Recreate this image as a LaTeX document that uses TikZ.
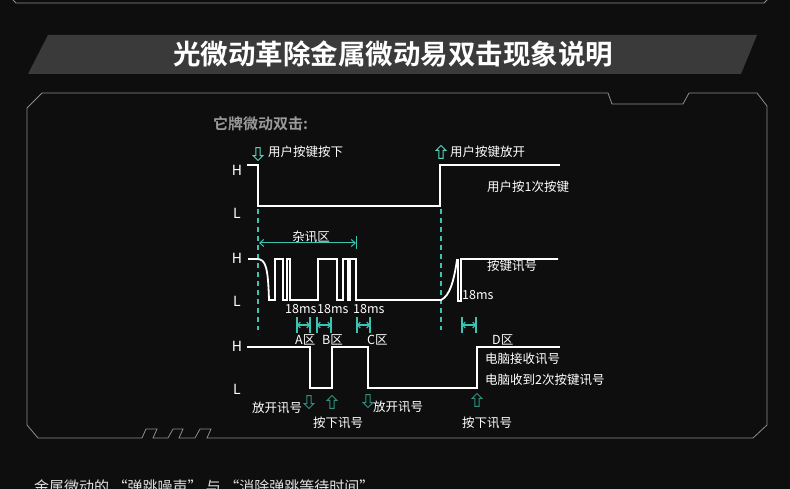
\documentclass[tikz,border=0pt]{standalone}
\usepackage{fontspec}
\setmainfont{Noto Sans CJK SC}[BoldFont={Noto Sans CJK SC Bold}]
\usetikzlibrary{arrows.meta,positioning,shapes.arrows}
\definecolor{bg}{HTML}{0E0E0E}
\definecolor{frameline}{HTML}{8C8C8C}
\definecolor{banner}{HTML}{3A3A3A}
\definecolor{tealline}{HTML}{3CC4B2}
\definecolor{tealarrow}{HTML}{57D3BE}
\definecolor{tealdark}{HTML}{2E8F7E}
\definecolor{subgrey}{HTML}{9A9A9A}
\tikzset{
  wave/.style={white,line width=1.8pt,line join=miter},
  lbl/.style={text=white,font=\fontsize{12.5}{14}\selectfont,inner sep=0pt,anchor=west},
  lvl/.style={text=white,font=\fontsize{14}{16}\selectfont,inner sep=0pt},
  guide/.style={tealline,line width=1.1pt,dash pattern=on 5pt off 4pt},
  hollow/.style={single arrow,draw=#1,line width=0.9pt,minimum height=13pt,minimum width=10pt,
    single arrow head extend=2.5pt,inner sep=1.5pt},
  widthmark/.style={tealline,line width=1.5pt}
}
\begin{document}
\begin{tikzpicture}[x=1pt,y=-1pt]
\fill[bg] (0,0) rectangle (790,489);
\useasboundingbox (0,0) rectangle (790,489);
\clip (0,0) rectangle (790,489);

% frame and title banner
\draw[frameline,line width=0.8pt] (13,0) -- (16,3) -- (764,3) -- (767,0);
\fill[banner] (48,35) -- (757,35) -- (741,74) -- (28,74) -- cycle;
\node[text=white,font=\bfseries\fontsize{27.5}{30}\selectfont] (title) at (393,54) {光微动革除金属微动易双击现象说明};
\draw[frameline,line width=0.8pt] (27,425) -- (27,108) -- (42,93) -- (608,93) -- (612,104) -- (683,104) -- (689,93)
  -- (757,93) -- (767,106) -- (767,425) -- (753,438) -- (207,438) -- (211,429) -- (200,429) -- (195,438)
  -- (179,438) -- (183,429) -- (173,429) -- (168,438) -- (153,438) -- (157,429) -- (146,429) -- (142,438)
  -- (38,438) -- cycle;
\node[text=subgrey,font=\bfseries\fontsize{15}{17}\selectfont,inner sep=0pt,anchor=west] (sub) at (213,124) {它牌微动双击:};

% row 1: key
\node[lvl] (h1) at (237,170) {H};
\node[lvl] (l1) at (237,213) {L};
\draw[wave] (247,165) -- (258,165) -- (258,206) -- (440,206) -- (440,165) -- (560,165);
\node[hollow=tealarrow,shape border rotate=270] (pressarr) at (258,153) {};
\node[lbl] (presstxt) at (268,152) {用户按键按下};
\node[hollow=tealarrow,shape border rotate=90] (releasearr) at (441,153) {};
\node[lbl] (releasetxt) at (450,152) {用户按键放开};
\node[lbl] (oncetxt) at (487,187) {用户按1次按键};

% guides
\draw[guide] (258,209) -- (258,330);
\draw[guide] (441,209) -- (441,330);

% row 2: switch signal
\node[lvl] (h2) at (237,258) {H};
\node[lvl] (l2) at (237,301) {L};
\draw[wave] (248,259) -- (257,259) .. controls (266,259) and (268,268) .. (269,300) -- (275,300) -- (275,259)
  -- (283,259) -- (283,300) -- (287,300) -- (287,259) -- (290,259) -- (290,300) -- (318,300) -- (318,259)
  -- (337,259) -- (337,300) -- (343,300) -- (343,259) -- (348,259) -- (348,300) -- (350,300) -- (350,259)
  -- (356,259) -- (356,300) -- (441,300) .. controls (450,296) and (454,280) .. (457,260) -- (458,260)
  -- (458,301) -- (461,301) -- (461,259) -- (558,259);
\coordinate (noiseL) at (259,243);
\coordinate (noiseR) at (356,243);
\draw[tealline,line width=1pt,{Straight Barb[length=4pt,width=7pt]}-{Straight Barb[length=4pt,width=7pt]}] (noiseL) -- (noiseR);
\draw[tealline,line width=1pt] ([yshift=-6pt]noiseR) -- ([yshift=7pt]noiseR);
\node[text=white,font=\fontsize{12.5}{14}\selectfont,inner sep=0pt] (noisetxt) at (311,237) {杂讯区};
\node[lbl] (keysig) at (487,266) {按键讯号};
\node[lbl] (msD) at (462,295) {18ms};
\node[lbl] (msA) at (285,309) {18ms};
\node[lbl] (msB) at (317,309) {18ms};
\node[lbl] (msC) at (353,309) {18ms};
\foreach \a/\b/\n in {297/310/A,317/331/B,357/370/C,462/476/D}{
  \coordinate (w\n l) at (\a,325);
  \coordinate (w\n r) at (\b,325);
  \draw[widthmark] ([yshift=8pt]w\n l) -- ([yshift=-8pt]w\n l);
  \draw[widthmark] ([yshift=8pt]w\n r) -- ([yshift=-8pt]w\n r);
  \draw[widthmark,line width=1.1pt,{Straight Barb[length=2.5pt,width=6pt]}-{Straight Barb[length=2.5pt,width=6pt]}] (w\n l) -- (w\n r);
}
\node[lbl] (zoneA) at (295,340) {A区};
\node[lbl] (zoneB) at (322,340) {B区};
\node[lbl] (zoneC) at (367,340) {C区};
\node[lbl] (zoneD) at (492,340) {D区};

% row 3: computer
\node[lvl] (h3) at (237,346) {H};
\node[lvl] (l3) at (237,389) {L};
\draw[wave] (247,347) -- (310,347) -- (310,388) -- (332,388) -- (332,347) -- (368,347) -- (368,388) -- (477,388) -- (477,347) -- (560,347);
\node[lbl] (pcrecv) at (485,359) {电脑接收讯号};
\node[lbl] (pctwice) at (485,380) {电脑收到2次按键讯号};
\node[hollow=tealdark,shape border rotate=270] (relA) at (309,401) {};
\node[hollow=tealdark,shape border rotate=90] (preA) at (332,403) {};
\node[hollow=tealdark,shape border rotate=270] (relB) at (368,400) {};
\node[hollow=tealdark,shape border rotate=90] (preB) at (477,401) {};
\node[lbl] (reltxtA) at (252,408) {放开讯号};
\node[lbl] (pretxtA) at (313,423) {按下讯号};
\node[lbl] (reltxtB) at (373,407) {放开讯号};
\node[lbl] (pretxtB) at (462,423) {按下讯号};

% caption below, cut by the edge
\node[text=white!88!black,font=\fontsize{15}{17}\selectfont,inner sep=0pt,anchor=west] (caption) at (34,487) {金属微动的 “弹跳噪声” 与 “消除弹跳等待时间”};
\end{tikzpicture}
\end{document}
